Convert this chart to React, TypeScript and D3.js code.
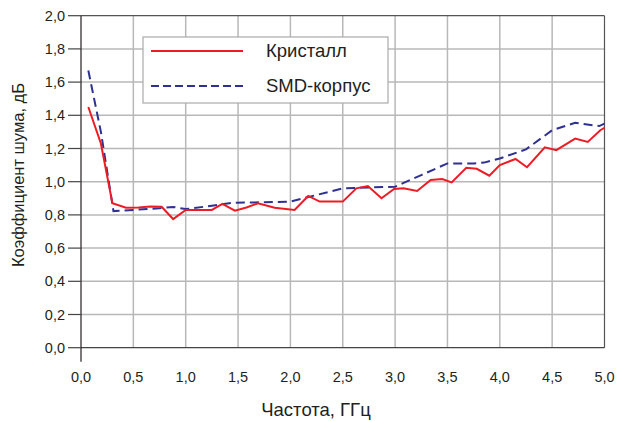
import React from "react";
import * as d3 from "d3";

const xTicks = [0, 0.5, 1, 1.5, 2, 2.5, 3, 3.5, 4, 4.5, 5];
const yTicks = [0, 0.2, 0.4, 0.6, 0.8, 1.0, 1.2, 1.4, 1.6, 1.8, 2.0];

const crystalX = [0.07, 0.19, 0.30, 0.43, 0.55, 0.66, 0.77, 0.88, 1.00, 1.12, 1.25, 1.35, 1.47, 1.58, 1.69, 1.85, 2.04, 2.17, 2.28, 2.50, 2.63, 2.74, 2.87, 2.99, 3.08, 3.21, 3.34, 3.45, 3.54, 3.68, 3.78, 3.90, 4.00, 4.15, 4.26, 4.43, 4.54, 4.72, 4.84, 4.96, 5.0];
const crystalY = [1.45, 1.23, 0.87, 0.843, 0.845, 0.85, 0.849, 0.775, 0.83, 0.83, 0.83, 0.866, 0.825, 0.845, 0.87, 0.843, 0.83, 0.914, 0.88, 0.88, 0.96, 0.974, 0.90, 0.956, 0.96, 0.944, 1.01, 1.016, 0.996, 1.084, 1.078, 1.036, 1.10, 1.137, 1.087, 1.207, 1.19, 1.26, 1.24, 1.31, 1.325];

const smdX = [0.07, 0.19, 0.31, 0.5, 0.75, 0.88, 1.0, 1.25, 1.45, 1.75, 2.0, 2.25, 2.5, 2.75, 3.0, 3.25, 3.5, 3.75, 3.85, 4.0, 4.25, 4.5, 4.72, 4.95, 5.0];
const smdY = [1.67, 1.3, 0.823, 0.83, 0.84, 0.848, 0.835, 0.855, 0.873, 0.876, 0.88, 0.92, 0.96, 0.965, 0.97, 1.04, 1.11, 1.11, 1.115, 1.14, 1.195, 1.31, 1.355, 1.335, 1.35];

const legendLabels = ["Кристалл", "SMD-корпус"];
const xTitle = "Частота, ГГц";
const yTitle = "Коэффициент шума, дБ";

const RED = "#ed1c24";
const BLUE = "#2e3192";
const GRID = "#b8b8b8";
const DARK = "#231f20";
const FONT = "'Liberation Sans', Arial, sans-serif";

export default function App() {
  const x = d3.scaleLinear().domain([0, 5]).range([81, 604.5]);
  const y = d3.scaleLinear().domain([0, 2]).range([347.7, 15.7]);
  const fmt = (v: number) => v.toFixed(1).replace(".", ",");

  const line = d3
    .line<[number, number]>()
    .x((d) => x(d[0]))
    .y((d) => y(d[1]));

  const red = line(crystalX.map((v, i) => [v, crystalY[i]] as [number, number])) || "";
  const blue = line(smdX.map((v, i) => [v, smdY[i]] as [number, number])) || "";

  const x0 = x(0), x1 = x(5), y0 = y(0), y1 = y(2);

  return (
    <svg
      width={625}
      height={421}
      style={{ position: "absolute", left: 0, top: 0, background: "#fff" }}
      fontFamily={FONT}
    >
      <rect x={0} y={0} width={625} height={421} fill="#fff" />
      {yTicks.slice(1, -1).map((t) => (
        <line key={"gy" + t} x1={x0} x2={x1} y1={y(t)} y2={y(t)} stroke={GRID} strokeWidth={1.5} />
      ))}
      {xTicks.slice(1, -1).map((t) => (
        <line key={"gx" + t} x1={x(t)} x2={x(t)} y1={y1} y2={y0} stroke={GRID} strokeWidth={1.5} />
      ))}
      <line x1={x0} x2={x1} y1={y1} y2={y1} stroke="#555" strokeWidth={1.2} />
      <line x1={x1} x2={x1} y1={y1} y2={y0} stroke="#555" strokeWidth={1.2} />
      <line x1={x0} x2={x1} y1={y0} y2={y0} stroke="#444" strokeWidth={1.2} />
      <line x1={x0} x2={x0} y1={y1} y2={y0 + 14} stroke={DARK} strokeWidth={1.2} />
      {yTicks.map((t) => (
        <g key={"yt" + t}>
          <line x1={68} x2={x0} y1={y(t)} y2={y(t)} stroke="#444" strokeWidth={1.2} />
          <text x={65} y={y(t)} dy="0.35em" textAnchor="end" fontSize={14.5} fill={DARK}>
            {fmt(t)}
          </text>
        </g>
      ))}
      {xTicks.map((t) => (
        <text key={"xt" + t} x={x(t)} y={377} dy="0.35em" textAnchor="middle" fontSize={14.5} fill={DARK}>
          {fmt(t)}
        </text>
      ))}
      <text x={316} y={410} dy="0.35em" textAnchor="middle" fontSize={18.5} fill={DARK}>
        {xTitle}
      </text>
      <text
        transform={`translate(18,175) rotate(-90)`}
        dy="0.35em"
        textAnchor="middle"
        fontSize={16.5}
        fill={DARK}
      >
        {yTitle}
      </text>
      <path d={blue} fill="none" stroke={BLUE} strokeWidth={2} strokeDasharray="9,5" />
      <path d={red} fill="none" stroke={RED} strokeWidth={2} />
      <rect x={143} y={37} width={245} height={66} fill="#fff" stroke="#aaa" strokeWidth={1.2} />
      <line x1={151} x2={243} y1={51} y2={51} stroke={RED} strokeWidth={2} />
      <line x1={151} x2={243} y1={86} y2={86} stroke={BLUE} strokeWidth={2} strokeDasharray="8,4" />
      <text x={266} y={51} dy="0.35em" fontSize={18.5} fill={DARK}>
        {legendLabels[0]}
      </text>
      <text x={266} y={86} dy="0.35em" fontSize={18.5} fill={DARK}>
        {legendLabels[1]}
      </text>
    </svg>
  );
}
